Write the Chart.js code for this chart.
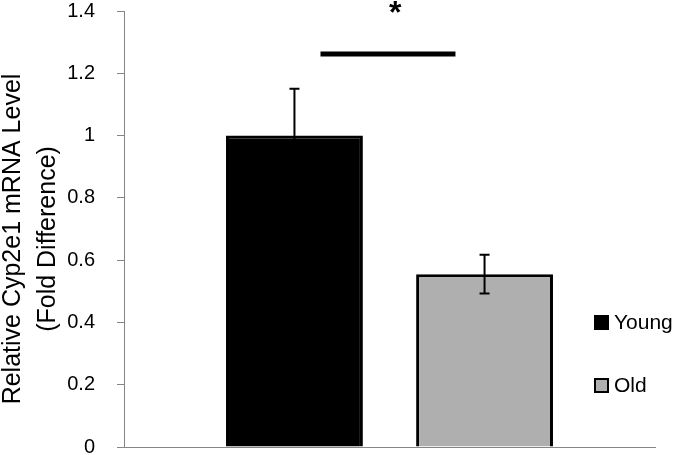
<!DOCTYPE html>
<html>
<head>
<meta charset="utf-8">
<script src="https://cdn.jsdelivr.net/npm/chart.js@4.4.1/dist/chart.umd.min.js"></script>
<style>
  html, body { margin: 0; padding: 0; background: #fff; }
  #wrap { width: 675px; height: 455px; position: relative; }
</style>
</head>
<body>
<div id="wrap"><canvas id="myChart"></canvas></div>
<script>
// data
var groups = ["Young", "Old"];
var means = [1.0, 0.555];
var errors = [0.15, 0.062];
var barColors = ["#000000", "#afafaf"];
var yTickLabels = ["0", "0.2", "0.4", "0.6", "0.8", "1", "1.2", "1.4"];
var yTitle = ["Relative Cyp2e1 mRNA Level", "(Fold Difference)"];
var sigLevel = 1.262;
var sigMark = "*";

var axisGray = "#868686";
var font = "'Liberation Sans', Arial, sans-serif";

// error bars, significance bar, axis title, legend
var extras = {
  id: "extras",
  afterDatasetsDraw(chart) {
    const ctx = chart.ctx;
    const y = chart.scales.y;
    const xs = [];
    ctx.save();
    ctx.strokeStyle = "#000";
    ctx.lineWidth = 2;
    chart.data.datasets.forEach(function (ds, i) {
      const bar = chart.getDatasetMeta(i).data[0];
      xs.push(bar.x);
      const top = y.getPixelForValue(means[i] + errors[i]);
      const bot = y.getPixelForValue(means[i] - errors[i]);
      ctx.beginPath();
      ctx.moveTo(bar.x, top);
      ctx.lineTo(bar.x, bot);
      ctx.moveTo(bar.x - 5, top);
      ctx.lineTo(bar.x + 5, top);
      ctx.moveTo(bar.x - 5, bot);
      ctx.lineTo(bar.x + 5, bot);
      ctx.stroke();
    });
    // significance line
    const d = xs[1] - xs[0];
    const sy = y.getPixelForValue(sigLevel);
    ctx.lineWidth = 5;
    ctx.beginPath();
    ctx.moveTo(xs[0] + 0.137 * d, sy);
    ctx.lineTo(xs[0] + 0.847 * d, sy);
    ctx.stroke();
    ctx.fillStyle = "#000";
    ctx.font = "bold 32px " + font;
    ctx.textAlign = "center";
    ctx.textBaseline = "middle";
    ctx.fillText(sigMark, xs[0] + 0.53 * d, sy - 40);
    ctx.restore();
  },
  afterDraw(chart) {
    const ctx = chart.ctx;
    const area = chart.chartArea;
    // y axis title, centred a little below the plot middle like the original
    ctx.save();
    ctx.fillStyle = "#000";
    ctx.font = "25px " + font;
    ctx.textAlign = "center";
    ctx.textBaseline = "alphabetic";
    const cy = (area.top + area.bottom) / 2 + 10;
    [20, 55].forEach(function (bx, i) {
      ctx.save();
      ctx.translate(bx, cy);
      ctx.rotate(-Math.PI / 2);
      ctx.fillText(yTitle[i], 0, 0);
      ctx.restore();
    });
    ctx.restore();

    // legend on the right
    ctx.save();
    ctx.font = "21px " + font;
    ctx.textBaseline = "middle";
    ctx.textAlign = "left";
    const rows = [322, 385];
    groups.forEach(function (g, i) {
      const ry = rows[i];
      ctx.fillStyle = barColors[i];
      ctx.fillRect(594, ry - 7, 15, 15);
      ctx.strokeStyle = "#000";
      ctx.lineWidth = 2;
      ctx.strokeRect(595, ry - 6, 13, 13);
      ctx.fillStyle = "#000";
      ctx.fillText(g, 614, ry + 1);
    });
    ctx.restore();
  }
};

var myChart = new Chart("myChart", {
  type: "bar",
  data: {
    labels: [""],
    datasets: groups.map(function (g, i) {
      return {
        label: g,
        data: [means[i]],
        backgroundColor: barColors[i],
        borderColor: "#000",
        borderWidth: 3,
        barPercentage: 0.72,
        categoryPercentage: 0.716
      };
    })
  },
  plugins: [extras],
  options: {
    responsive: true,
    maintainAspectRatio: false,
    animation: false,
    layout: { padding: { top: 0, right: 20, bottom: 0, left: 0 } },
    plugins: {
      legend: { display: false },
      tooltip: { enabled: false }
    },
    scales: {
      x: {
        grid: { display: false },
        border: { display: true, color: axisGray, width: 1 },
        ticks: { display: false },
        afterFit: function (s) { s.height = 0; s.paddingLeft = 0; s.paddingRight = 0; }
      },
      y: {
        min: 0,
        max: 1.4,
        ticks: {
          stepSize: 0.2,
          color: "#000",
          padding: 22,
          font: { family: font, size: 20 },
          callback: function (v, i) { return yTickLabels[i]; }
        },
        grid: {
          drawOnChartArea: false,
          drawTicks: true,
          tickLength: 7,
          color: axisGray
        },
        border: { display: true, color: axisGray, width: 1 },
        title: { display: false },
        afterFit: function (s) {
          s.width = 124;
          s.paddingTop = 11;
          s.paddingBottom = 8;
        }
      }
    }
  }
});
</script>
</body>
</html>
